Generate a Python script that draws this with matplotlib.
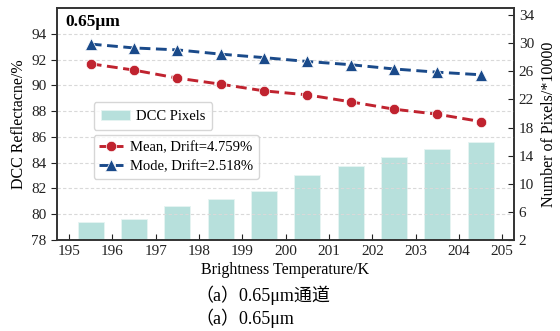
import matplotlib.pyplot as plt

plt.rcParams['font.family'] = ['Liberation Serif', 'Noto Sans CJK SC']
plt.rcParams['font.size'] = 10

# brightness temperature bins (K)
temps = [195.5, 196.5, 197.5, 198.5, 199.5, 200.5, 201.5, 202.5, 203.5, 204.5]
# DCC reflectance (%)
mean_refl = [91.67, 91.18, 90.56, 90.09, 89.57, 89.26, 88.72, 88.15, 87.76, 87.19]
mode_refl = [93.20, 92.90, 92.75, 92.42, 92.15, 91.85, 91.60, 91.27, 91.02, 90.82]
# pixel counts (*10000)
pixels = [4.5, 5.0, 6.8, 7.9, 9.0, 11.2, 12.5, 13.8, 14.9, 16.0]

red = '#c0232f'
blue = '#1a4a8a'
bar_color = '#b7e0dc'
spine_color = '#333333'

fig = plt.figure(figsize=(5.6, 3.31), dpi=100)
ax = fig.add_axes([57 / 560, 91 / 331, 457 / 560, 232 / 331])
ax2 = ax.twinx()

bars = ax2.bar(temps, pixels, width=0.6, color=bar_color, edgecolor='#e6f4f2',
               linewidth=0.6, label='DCC Pixels')
ax2.set_ylim(2, 35)
ax2.set_yticks(range(2, 35, 4))
ax2.set_ylabel('Number of Pixels/*10000', fontsize=11.5, labelpad=5)
ax2.tick_params(axis='y', direction='in', length=4, colors='#222222', labelsize=11)

ax.set_zorder(ax2.get_zorder() + 1)
ax.patch.set_visible(False)

l1, = ax.plot(temps, mean_refl, '--', color=red, lw=2.1, dashes=(3.7, 1.9),
              marker='o', ms=7.5, mec='white', mew=0.5,
              label='Mean, Drift=4.759%')
l2, = ax.plot(temps, mode_refl, '--', color=blue, lw=2.1, dashes=(3.7, 1.9),
              marker='^', ms=8, mec='white', mew=0.5,
              label='Mode, Drift=2.518%')

ax.set_xlim(194.72, 205.27)
ax.set_ylim(78, 96)
ax.set_xticks(range(195, 206))
ax.set_yticks(range(78, 95, 2))
ax.grid(axis='y', ls='--', lw=0.8, color='#d9d9d9', dashes=(3, 2))
ax.tick_params(axis='x', direction='in', length=4, colors='#222222', labelsize=11)
ax.tick_params(axis='y', direction='out', length=4, colors='#222222', labelsize=11)
ax.set_xlabel('Brightness Temperature/K', fontsize=11.5, labelpad=3)
ax.set_ylabel('DCC Reflectacne/%', fontsize=11.5, labelpad=3)

for a in (ax, ax2):
    for s in a.spines.values():
        s.set_color(spine_color)
        s.set_linewidth(1.2)

ax.text(0.018, 0.975, '0.65μm', transform=ax.transAxes, ha='left', va='top',
        fontsize=12.5, fontweight='bold')

leg1 = ax.legend(handles=[bars], loc='upper left', bbox_to_anchor=(0.064, 0.625),
                 fontsize=10.5, frameon=True, edgecolor='#cccccc', borderpad=0.5,
                 handlelength=2.0, handletextpad=0.4)
ax.add_artist(leg1)
ax.legend(handles=[l1, l2], loc='upper left', bbox_to_anchor=(0.064, 0.482),
          fontsize=10.5, frameon=True, edgecolor='#cccccc', borderpad=0.4,
          handlelength=1.6, handletextpad=0.5, labelspacing=0.35)

fig.text(195 / 560, 1 - 295 / 331, '（a）0.65μm通道', ha='left', va='center', fontsize=13)
fig.text(195 / 560, 1 - 318 / 331, '（a）0.65μm', ha='left', va='center', fontsize=13)

fig.savefig('out.png', dpi=100)
